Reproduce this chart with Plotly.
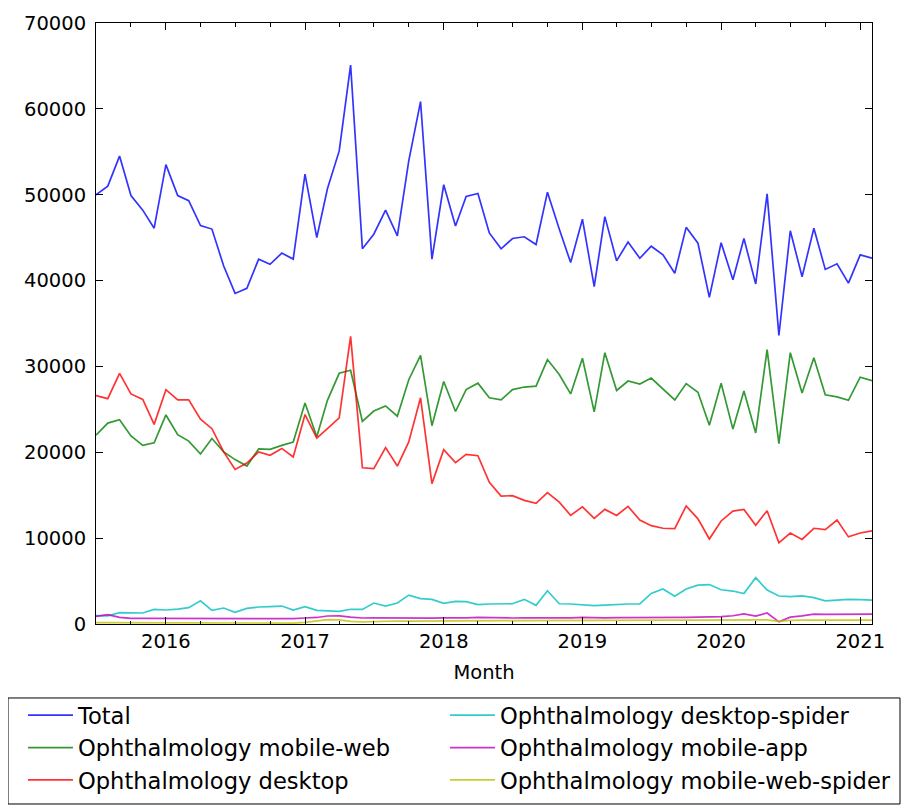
import pandas as pd
import plotly.graph_objects as go

months = pd.date_range("2015-07-01", periods=68, freq="MS")

total = [50000, 51000, 54500, 49900, 48200, 46100, 53500, 49900, 49300, 46400, 46000,
         41700, 38500, 39100, 42500, 41900, 43200, 42500, 52400, 45000, 50700,
         55100, 65100, 43700, 45400, 48200, 45200, 53950, 60850, 42500, 51160,
         46350, 49800, 50150, 45550, 43700, 44900, 45100, 44200, 50300, 46000,
         42100, 47150, 39300, 47450, 42300, 44500, 42600, 44000, 43000, 40850,
         46200, 44350, 38050, 44400, 40100, 44900, 39600, 50100, 33600, 45800,
         40450, 46100, 41300, 41950, 39700, 43000, 42600]

mobile_web = [22000, 23400, 23800, 21900, 20800, 21100, 24350, 22050, 21300, 19800, 21600,
              20050, 19150, 18400, 20400, 20350, 20800, 21200, 25750, 21800, 26050,
              29200, 29550, 23600, 24800, 25400, 24200, 28450, 31300, 23100, 28250,
              24750, 27300, 28050, 26350, 26100, 27300, 27600, 27700, 30800, 29050,
              26800, 30950, 24700, 31600, 27200, 28300, 27950, 28650, 27400, 26100,
              28000, 27000, 23150, 28050, 22700, 27150, 22250, 31950, 21000, 31600,
              26900, 31000, 26700, 26450, 26050, 28750, 28350]

desktop = [26600, 26250, 29200, 26800, 26150, 23250, 27300, 26100, 26100, 23850, 22750,
           20050, 18000, 18750, 20050, 19650, 20450, 19450, 24400, 21650, 22750,
           24000, 33500, 18200, 18100, 20550, 18400, 21200, 26350, 16350, 20300,
           18800, 19750, 19600, 16500, 14900, 14950, 14400, 14050, 15300, 14200,
           12650, 13650, 12300, 13350, 12650, 13700, 12100, 11450, 11150, 11100,
           13750, 12250, 9900, 12000, 13150, 13350, 11500, 13200, 9450, 10600,
           9850, 11150, 11000, 12100, 10150, 10600, 10850]

desktop_spider = [970, 950, 1320, 1280, 1280, 1700, 1630, 1740, 1900, 2710, 1590,
                  1860, 1360, 1820, 1980, 2020, 2090, 1630, 2020, 1590, 1550,
                  1470, 1720, 1700, 2440, 2090, 2440, 3370, 2950, 2870, 2400,
                  2630, 2600, 2250, 2330, 2360, 2360, 2870, 2170, 3870, 2360,
                  2330, 2210, 2130, 2210, 2290, 2330, 2350, 3560, 4070, 3240,
                  4070, 4530, 4590, 3990, 3840, 3550, 5400, 3950, 3260, 3200,
                  3280, 3080, 2690, 2770, 2870, 2830, 2790]

mobile_app = [880, 1080, 780, 660, 650, 650, 660, 650, 640, 620, 650,
              640, 640, 660, 650, 640, 600, 620, 700, 760, 930,
              950, 800, 700, 720, 700, 740, 700, 720, 680, 720,
              700, 720, 760, 720, 720, 700, 720, 700, 720, 740,
              720, 760, 700, 720, 740, 760, 770, 780, 780, 770,
              780, 800, 820, 850, 960, 1180, 930, 1280, 250, 800,
              950, 1150, 1120, 1120, 1150, 1180, 1150]

mobile_web_spider = [150, 150, 140, 130, 130, 120, 120, 110, 110, 100, 100,
                     100, 100, 110, 110, 100, 100, 110, 200, 350, 520,
                     480, 300, 250, 300, 320, 350, 330, 350, 340, 350,
                     360, 380, 380, 400, 400, 390, 400, 410, 400, 420,
                     410, 420, 420, 410, 420, 430, 440, 430, 440, 440,
                     450, 450, 460, 450, 460, 480, 470, 480, 300, 420,
                     450, 460, 460, 470, 460, 470, 460]

series = [
    ("Total", total, "rgba(0,0,255,0.8)", "legend"),
    ("Ophthalmology mobile-web", mobile_web, "rgba(0,128,0,0.8)", "legend"),
    ("Ophthalmology desktop", desktop, "rgba(255,0,0,0.8)", "legend"),
    ("Ophthalmology desktop-spider", desktop_spider, "rgba(0,191,191,0.8)", "legend2"),
    ("Ophthalmology mobile-app", mobile_app, "rgba(191,0,191,0.8)", "legend2"),
    ("Ophthalmology mobile-web-spider", mobile_web_spider, "rgba(191,191,0,0.8)", "legend2"),
]

fig = go.Figure()
for name, vals, color, leg in series:
    fig.add_trace(go.Scatter(x=months, y=vals, mode="lines", name=name, legend=leg,
                             line=dict(color=color, width=1.7)))

axis_common = dict(showline=True, linecolor="black", linewidth=1, mirror="ticks",
                   ticks="inside", tickcolor="black", tickwidth=1, ticklen=7,
                   showgrid=False, zeroline=False)

legend_common = dict(orientation="v", xanchor="left", yanchor="top",
                     borderwidth=0, bgcolor="rgba(255,255,255,0)",
                     itemwidth=45, font=dict(size=22.6), traceorder="normal")

fig.update_layout(
    width=901, height=803,
    margin=dict(l=88, r=37, t=15, b=187, autoexpand=False),
    paper_bgcolor="white", plot_bgcolor="white",
    font=dict(family="DejaVu Sans", size=19.5, color="black"),
    xaxis=dict(range=[months[0], months[-1]], dtick="M12", tick0="2016-01-01",
               tickformat="%Y", ticklabelstandoff=0,
               minor=dict(ticks="inside", ticklen=3.5, dtick="M3", tick0="2015-07-01",
                          tickcolor="black", tickwidth=1, showgrid=False),
               title=dict(text="Month", standoff=12, font=dict(size=19.5)),
               **axis_common),
    yaxis=dict(range=[0, 70000], dtick=10000, tickformat="d", ticklabelstandoff=5,
               **axis_common),
    showlegend=True,
    legend=dict(x=-0.0941, y=-0.1165, **legend_common),
    legend2=dict(x=0.4497, y=-0.1165, **legend_common),
    shapes=[dict(type="rect", xref="paper", yref="paper",
                 x0=-0.1134, x1=1.0361, y0=-0.1231, y1=-0.2995,
                 line=dict(color="black", width=1), fillcolor="rgba(0,0,0,0)",
                 layer="below")],
)

fig.write_html("out.html")
